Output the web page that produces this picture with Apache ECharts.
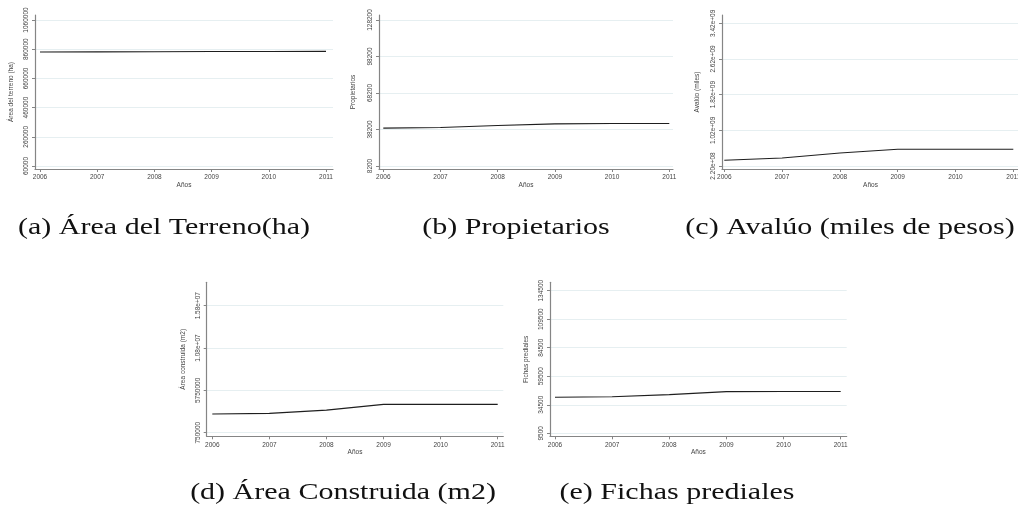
<!DOCTYPE html>
<html>
<head>
<meta charset="utf-8">
<script src="https://cdn.jsdelivr.net/npm/echarts@6/dist/echarts.min.js"></script>
<style>
html,body{margin:0;padding:0;background:#fff;}
#main{width:1018px;height:508px;}
</style>
</head>
<body>
<div id="main"></div>
<script>
// ---- data ----
const years = [2006, 2007, 2008, 2009, 2010, 2011];
const areaTerreno = [841000, 842000, 843000, 844000, 844000, 845000];
const propietarios = [39300, 39900, 41500, 42800, 43100, 43100];
const avaluo = [348000000, 400000000, 510000000, 594000000, 595000000, 596000000];
const areaConstruida = [2950000, 3030000, 3420000, 4090000, 4090000, 4100000];
const fichas = [41100, 41600, 43400, 46000, 46200, 46200];

const ticksA = [60000, 260000, 460000, 660000, 860000, 1060000];
const labelsA = ['60000', '260000', '460000', '660000', '860000', '1060000'];
const ticksB = [8200, 38200, 68200, 98200, 128200];
const labelsB = ['8200', '38200', '68200', '98200', '128200'];
const ticksC = [220000000, 1020000000, 1820000000, 2620000000, 3420000000];
const labelsC = ['2.20e+08', '1.02e+09', '1.82e+09', '2.62e+09', '3.42e+09'];
const ticksD = [750000, 5750000, 10750000, 15750000];
const labelsD = ['750000', '5750000', '1.08e+07', '1.58e+07'];
const ticksE = [9500, 34500, 59500, 84500, 109500, 134500];
const labelsE = ['9500', '34500', '59500', '84500', '109500', '134500'];

const yTitles = ['Área del terreno (ha)', 'Propietarios', 'Avalúo (miles)', 'Área construida (m2)', 'Fichas prediales'];
const xTitle = 'Años';
const captions = ['(a) Área del Terreno(ha)', '(b) Propietarios', '(c) Avalúo (miles de pesos)', '(d) Área Construida (m2)', '(e) Fichas prediales'];

// ---- layout (pixels) ----
const panels = [
  {vals: areaTerreno, ticks: ticksA, labels: labelsA, left: 35, right: 333, top: 15, axisY: 169, yTop: 20, yBot: 166, x0: 40, x1: 326, gap: 20, cap: [164, 228]},
  {vals: propietarios, ticks: ticksB, labels: labelsB, left: 379, right: 673, top: 15, axisY: 169, yTop: 20, yBot: 166, x0: 383.3, x1: 669.3, gap: 22, cap: [516, 228]},
  {vals: avaluo, ticks: ticksC, labels: labelsC, left: 722, right: 1019, top: 15, axisY: 169, yTop: 23.3, yBot: 166, x0: 724.3, x1: 1013.3, gap: 21, cap: [850, 228]},
  {vals: areaConstruida, ticks: ticksD, labels: labelsD, left: 206.7, right: 503.3, top: 282.3, axisY: 436.3, yTop: 305.7, yBot: 432.7, x0: 212.3, x1: 497.7, gap: 20, cap: [343, 493]},
  {vals: fichas, ticks: ticksE, labels: labelsE, left: 550, right: 846.7, top: 282.3, axisY: 436.3, yTop: 290.7, yBot: 433.3, x0: 555, x1: 840.7, gap: 20, cap: [677, 493]}
];

const axisColor = '#858585';
const textColor = '#444';
const tickFont = 'Liberation Sans';

const grids = [], xAxes = [], yAxes = [], series = [], graphics = [];
panels.forEach((p, i) => {
  const tMin = p.ticks[0], tMax = p.ticks[p.ticks.length - 1];
  const ys = (tMax - tMin) / (p.yBot - p.yTop);
  const yMin = tMin - (p.axisY - p.yBot) * ys;
  const yMax = tMax + (p.yTop - p.top) * ys;
  const y0 = years[0], y1 = years[years.length - 1];
  const xs = (y1 - y0) / (p.x1 - p.x0);
  const xMin = y0 - (p.x0 - p.left) * xs;
  const xMax = y1 + (p.right - p.x1) * xs;
  grids.push({left: p.left, top: p.top, width: p.right - p.left, height: p.axisY - p.top, containLabel: false, outerBoundsMode: 'none'});
  xAxes.push({
    type: 'value', gridIndex: i, min: xMin, max: xMax,
    name: xTitle, nameLocation: 'middle', nameGap: 12,
    nameTextStyle: {fontSize: 6.5, color: textColor, fontFamily: tickFont},
    axisLine: {show: true, lineStyle: {color: axisColor, width: 1.2}},
    axisTick: {show: true, length: 3, lineStyle: {color: axisColor}, customValues: years},
    axisLabel: {fontSize: 6.5, color: textColor, fontFamily: tickFont, margin: 5, customValues: years, formatter: v => String(Math.round(v))},
    splitLine: {show: false}
  });
  const labelMap = {};
  p.ticks.forEach((t, k) => { labelMap[t] = p.labels[k]; });
  yAxes.push({
    type: 'value', gridIndex: i, min: yMin, max: yMax,
    name: yTitles[i], nameLocation: 'middle', nameGap: p.gap,
    nameTextStyle: {fontSize: 6.5, color: textColor, fontFamily: tickFont},
    axisLine: {show: true, lineStyle: {color: axisColor, width: 1.2}},
    axisTick: {show: true, length: 3, lineStyle: {color: axisColor}, customValues: p.ticks},
    axisLabel: {fontSize: 6.5, color: textColor, fontFamily: tickFont, margin: 5, rotate: 90, customValues: p.ticks,
      formatter: v => { for (const t of p.ticks) { if (Math.abs(t - v) < 1e-6 * Math.abs(t || 1)) return labelMap[t]; } return ''; }},
    splitLine: {show: true, lineStyle: {color: '#e6eff1', width: 1}}
  });
  series.push({
    type: 'line', xAxisIndex: i, yAxisIndex: i,
    data: years.map((yr, k) => [yr, p.vals[k]]),
    showSymbol: false, symbol: 'none',
    lineStyle: {color: '#1e1e1e', width: 1.1},
    animation: false
  });
  graphics.push({
    type: 'text', x: p.cap[0], y: p.cap[1], scaleX: 1.25,
    style: {text: captions[i], fill: '#111', font: '24px "Liberation Serif"', textAlign: 'center', textVerticalAlign: 'middle'}
  });
});

const chart = echarts.init(document.getElementById('main'), null, {renderer: 'canvas'});
chart.setOption({
  animation: false,
  backgroundColor: '#ffffff',
  grid: grids,
  xAxis: xAxes,
  yAxis: yAxes,
  series: series,
  graphic: graphics
});
</script>
</body>
</html>
